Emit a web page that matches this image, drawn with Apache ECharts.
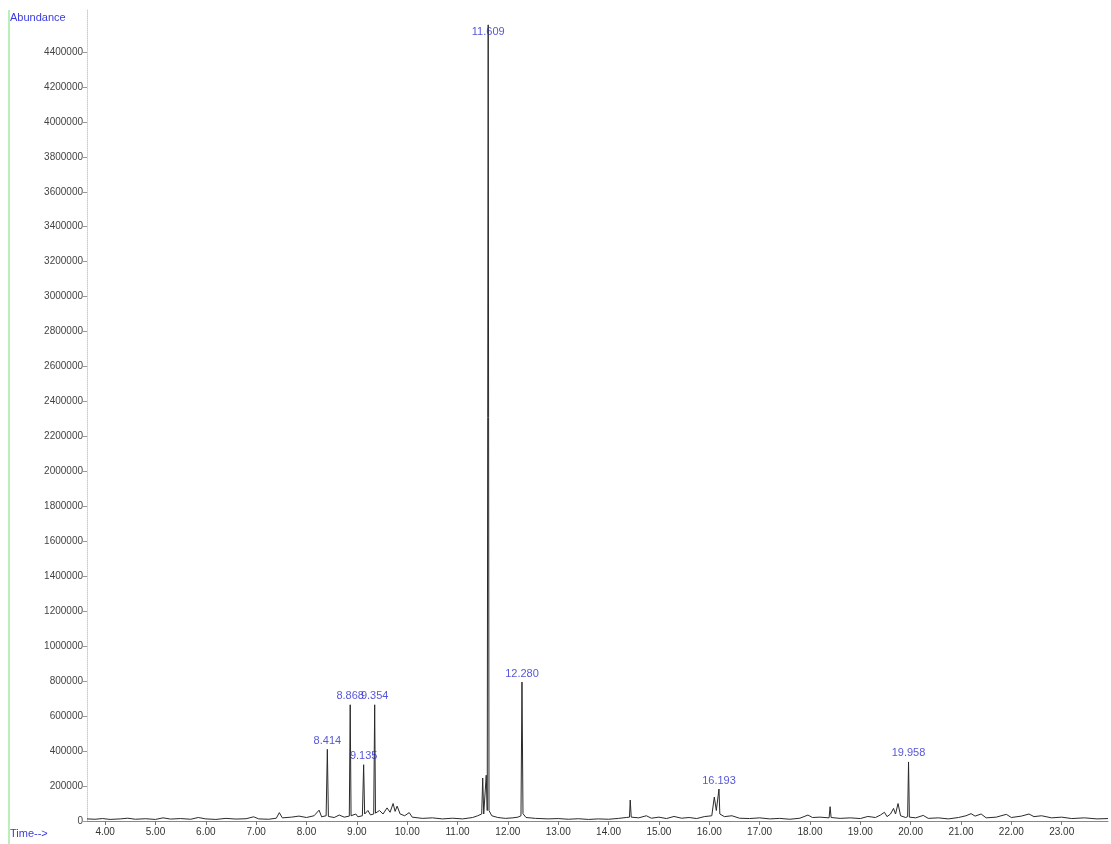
<!DOCTYPE html>
<html>
<head>
<meta charset="utf-8">
<script src="https://cdn.jsdelivr.net/npm/echarts@6/dist/echarts.min.js"></script>
<style>
  html, body { margin: 0; padding: 0; background: #fff; }
  #chart { width: 1111px; height: 844px; }
</style>
</head>
<body>
<div id="chart"></div>
<script>
// retention time (min)
const rtMin = [
  3.64, 3.80, 3.95, 4.10, 4.30, 4.45, 4.60, 4.80, 5.00, 5.15, 5.30, 5.50, 5.70, 5.85, 6.00, 6.20,
  6.40, 6.60, 6.80, 6.95, 7.05, 7.25, 7.40, 7.46, 7.52, 7.70, 7.85, 8.00, 8.15, 8.25, 8.30, 8.39,
  8.414, 8.435, 8.55, 8.65, 8.75, 8.85, 8.868, 8.885, 8.98, 9.02, 9.11, 9.135, 9.155, 9.22, 9.27, 9.335,
  9.354, 9.37, 9.45, 9.52, 9.60, 9.66, 9.72, 9.76, 9.80, 9.86, 9.95, 10.04, 10.10, 10.30, 10.50, 10.70,
  10.90, 11.10, 11.30, 11.40, 11.48, 11.50, 11.52, 11.555, 11.57, 11.59, 11.609, 11.625, 11.68, 11.80, 11.95, 12.10,
  12.20, 12.26, 12.280, 12.30, 12.36, 12.55, 12.80, 13.00, 13.20, 13.40, 13.60, 13.80, 14.00, 14.20, 14.35, 14.415,
  14.43, 14.45, 14.60, 14.75, 14.85, 15.00, 15.15, 15.30, 15.45, 15.60, 15.75, 15.90, 16.05, 16.085, 16.10, 16.14,
  16.175, 16.193, 16.21, 16.30, 16.45, 16.60, 16.80, 17.00, 17.20, 17.40, 17.60, 17.80, 17.96, 18.05, 18.20, 18.38,
  18.40, 18.42, 18.60, 18.80, 19.00, 19.15, 19.30, 19.40, 19.48, 19.53, 19.60, 19.66, 19.70, 19.75, 19.80, 19.90,
  19.94, 19.958, 19.975, 20.10, 20.25, 20.35, 20.55, 20.75, 20.95, 21.10, 21.20, 21.28, 21.40, 21.50, 21.70, 21.90,
  22.00, 22.20, 22.35, 22.45, 22.60, 22.80, 23.00, 23.20, 23.45, 23.70, 23.92
];
// abundance
const abund = [
  12000, 10000, 14000, 9000, 12000, 16000, 10000, 13000, 9000, 18000, 11000, 14000, 10000, 20000, 12000, 9000,
  15000, 11000, 13000, 24000, 12000, 10000, 16000, 48000, 18000, 22000, 28000, 20000, 30000, 62000, 24000, 30000,
  410000, 26000, 20000, 34000, 22000, 28000, 665000, 30000, 40000, 24000, 30000, 322000, 40000, 60000, 35000, 40000,
  665000, 45000, 60000, 40000, 75000, 50000, 100000, 55000, 85000, 40000, 30000, 48000, 22000, 15000, 18000, 12000,
  16000, 12000, 20000, 30000, 40000, 246000, 40000, 45000, 262000, 60000, 4555000, 60000, 30000, 20000, 15000, 18000,
  22000, 30000, 795000, 42000, 20000, 15000, 12000, 14000, 10000, 13000, 9000, 12000, 10000, 15000, 20000, 22000,
  120000, 22000, 18000, 30000, 16000, 22000, 14000, 26000, 16000, 20000, 14000, 25000, 30000, 35000, 137000, 60000,
  50000, 183000, 40000, 25000, 30000, 16000, 14000, 18000, 12000, 15000, 10000, 16000, 34000, 20000, 22000, 18000,
  82000, 20000, 15000, 18000, 14000, 26000, 20000, 34000, 50000, 25000, 40000, 72000, 40000, 100000, 30000, 20000,
  25000, 338000, 22000, 18000, 32000, 15000, 18000, 12000, 20000, 30000, 42000, 28000, 40000, 18000, 22000, 38000,
  20000, 28000, 40000, 25000, 30000, 18000, 22000, 14000, 18000, 12000, 14000
];
// labelled peaks
const peakTimes = [8.414, 8.868, 9.135, 9.354, 11.609, 12.280, 16.193, 19.958];
// axis ticks
const xTicks = [4, 5, 6, 7, 8, 9, 10, 11, 12, 13, 14, 15, 16, 17, 18, 19, 20, 21, 22, 23];
const yTicks = [0, 200000, 400000, 600000, 800000, 1000000, 1200000, 1400000, 1600000, 1800000, 2000000,
  2200000, 2400000, 2600000, 2800000, 3000000, 3200000, 3400000, 3600000, 3800000, 4000000, 4200000, 4400000];

const trace = rtMin.map((t, i) => [t, abund[i]]);
const peaks = peakTimes.map(t => {
  const v = abund[rtMin.indexOf(t)];
  const item = { value: [t, v] };
  if (t === 11.609) item.label = { position: 'bottom', distance: 2 };
  return item;
});

const chart = echarts.init(document.getElementById('chart'));
chart.setOption({
  animation: false,
  backgroundColor: '#fff',
  textStyle: { fontFamily: 'Liberation Sans, Arial, sans-serif' },
  grid: { left: 87, right: 3, top: 10, bottom: 23 },
  graphic: [
    { type: 'rect', left: 8, top: 10, shape: { width: 2, height: 834 }, style: { fill: '#b8f0b8' } },
    { type: 'text', left: 10, top: 12, style: { text: 'Abundance', fill: '#3a3ae0', fontSize: 11, fontFamily: 'Liberation Sans' } },
    { type: 'text', left: 10, top: 828, style: { text: 'Time-->', fill: '#3a3ae0', fontSize: 11, fontFamily: 'Liberation Sans' } }
  ],
  xAxis: {
    type: 'value',
    min: 3.64,
    max: 23.92,
    splitLine: { show: false },
    axisLine: { lineStyle: { color: '#888', width: 1 } },
    axisTick: { customValues: xTicks, length: 4, lineStyle: { color: '#777' } },
    axisLabel: {
      customValues: xTicks,
      color: '#333',
      fontSize: 10,
      margin: 6,
      formatter: v => v.toFixed(2)
    }
  },
  yAxis: {
    type: 'value',
    min: 0,
    max: 4640000,
    splitLine: { show: false },
    axisLine: { show: true, lineStyle: { color: '#ccc', type: 'dotted' } },
    axisTick: { show: true, customValues: yTicks, length: 4, lineStyle: { color: '#999' } },
    axisLabel: { customValues: yTicks, color: '#444', fontSize: 10, margin: 4, formatter: v => String(v) }
  },
  series: [
    {
      type: 'line',
      data: trace,
      showSymbol: false,
      lineStyle: { color: '#2a2a2a', width: 1 }
    },
    {
      type: 'scatter',
      data: peaks,
      symbolSize: 0,
      z: 5,
      label: {
        show: true,
        position: 'top',
        distance: 3,
        color: '#2a2ad0',
        fontSize: 11,
        formatter: p => p.value[0].toFixed(3)
      }
    }
  ]
});
</script>
</body>
</html>
